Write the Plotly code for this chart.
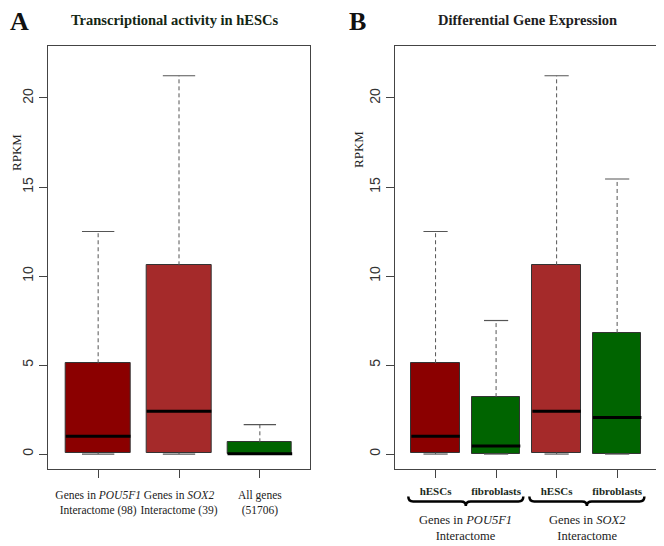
import plotly.graph_objects as go

# ---- data (RPKM box statistics) ----
a_labels = ["Genes in <i>POU5F1</i><br>Interactome (98)",
            "Genes in <i>SOX2</i><br>Interactome (39)",
            "All genes<br>(51706)"]
a_lower = [0.0, 0.0, 0.0]
a_q1 = [0.08, 0.08, 0.0]
a_median = [1.0, 2.4, 0.02]
a_q3 = [5.1, 10.6, 0.66]
a_upper = [12.5, 21.25, 1.65]
a_colors = ["#8B0000", "#A52A2A", "#006400"]

b_labels = ["hESCs", "fibroblasts", "hESCs", "fibroblasts"]
b_lower = [0.0, 0.0, 0.0, 0.0]
b_q1 = [0.08, 0.02, 0.08, 0.02]
b_median = [1.0, 0.45, 2.4, 2.05]
b_q3 = [5.1, 3.2, 10.6, 6.8]
b_upper = [12.5, 7.5, 21.25, 15.45]
b_colors = ["#8B0000", "#006400", "#A52A2A", "#006400"]
b_groups = ["Genes in <i>POU5F1</i><br>Interactome", "Genes in <i>SOX2</i><br>Interactome"]

y_ticks = [0, 5, 10, 15, 20]

SERIF = "Liberation Serif"
SANS = "Liberation Sans"
BOXW = 0.8

# page has an 8px body margin: figure is sized to fit the window exactly
W, H, OFF = 656, 538, 8


def px(x, y):
    # page pixel -> paper coordinates
    return (x - OFF) / W, 1 - (y - OFF) / H


def xdom(a, b):
    return [(a - OFF) / W, (b - OFF) / W]


fig = go.Figure()


def add_boxes(lower, q1, med, q3, upper, colors, xa, ya):
    pos = list(range(1, len(q1) + 1))
    fig.add_trace(go.Bar(x=pos, y=[h - l for h, l in zip(q3, q1)], base=q1, width=BOXW,
                         marker=dict(color=colors, line=dict(color="#333333", width=1)),
                         xaxis=xa, yaxis=ya, showlegend=False, hoverinfo="skip"))
    wx, wy, cx, cy, mx, my = [], [], [], [], [], []
    for p, lo, a, m, b, hi in zip(pos, lower, q1, med, q3, upper):
        wx += [p, p, None, p, p, None]
        wy += [b, hi, None, lo, a, None]
        cx += [p - BOXW / 4, p + BOXW / 4, None, p - BOXW / 4, p + BOXW / 4, None]
        cy += [hi, hi, None, lo, lo, None]
        mx += [p - BOXW / 2, p + BOXW / 2, None]
        my += [m, m, None]
    fig.add_trace(go.Scatter(x=wx, y=wy, mode="lines", line=dict(color="#555555", width=1, dash="4px,3px"),
                             xaxis=xa, yaxis=ya, showlegend=False, hoverinfo="skip"))
    fig.add_trace(go.Scatter(x=cx, y=cy, mode="lines", line=dict(color="#555555", width=1.2),
                             xaxis=xa, yaxis=ya, showlegend=False, hoverinfo="skip"))
    fig.add_trace(go.Scatter(x=mx, y=my, mode="lines", line=dict(color="black", width=3),
                             xaxis=xa, yaxis=ya, showlegend=False, hoverinfo="skip"))


add_boxes(a_lower, a_q1, a_median, a_q3, a_upper, a_colors, "x", "y")
add_boxes(b_lower, b_q1, b_median, b_q3, b_upper, b_colors, "x2", "y2")

ydom = [1 - (469 - OFF) / H, 1 - (46 - OFF) / H]
frame = dict(showline=True, mirror=True, linecolor="#444444", linewidth=1, automargin=False,
             showgrid=False, zeroline=False, ticks="outside", tickcolor="#444444")

fig.update_layout(
    width=W, height=H, margin=dict(l=0, r=0, t=0, b=0, autoexpand=False),
    plot_bgcolor="white", paper_bgcolor="white", bargap=0,
    xaxis=dict(domain=xdom(47.7, 310.3), range=[0.376, 3.624], tickvals=[1, 2, 3],
               ticktext=a_labels, ticklen=8, ticklabelstandoff=7, tickangle=0,
               tickfont=dict(family=SERIF, size=11.5, color="#222222"), **frame),
    yaxis=dict(domain=ydom, range=[-0.84, 22.92], tickvals=y_ticks, ticklen=8, tickangle=-90,
               tickfont=dict(family=SANS, size=14, color="#333333"), **frame),
    xaxis2=dict(domain=xdom(395, 657.7), range=[0.33, 4.67], tickvals=[1, 2, 3, 4],
                ticktext=["<b>%s</b>" % t for t in b_labels], ticklen=8, ticklabelstandoff=4,
                tickangle=0, tickfont=dict(family=SERIF, size=11, color="#1a2a1a"),
                anchor="y2", **frame),
    yaxis2=dict(domain=ydom, range=[-0.84, 22.92], tickvals=y_ticks, ticklen=8, tickangle=-90,
                tickfont=dict(family=SANS, size=14, color="#333333"), anchor="x2", **frame),
)


def note(text, x, y, size, color="#222222", family=SERIF, angle=0):
    xp, yp = px(x, y)
    fig.add_annotation(text=text, x=xp, y=yp, xref="paper", yref="paper", showarrow=False,
                       xanchor="center", yanchor="middle", textangle=angle,
                       font=dict(family=family, size=size, color=color))


# panel letters, titles, axis titles
note("<b>A</b>", 19, 22, 26, "#111111")
note("<b>B</b>", 357, 22, 26, "#111111")
note("<b>Transcriptional activity in hESCs</b>", 175, 20, 14.5, "#132613")
note("<b>Differential Gene Expression</b>", 527, 20, 14.5, "#1e1e1e")
note("RPKM", 17, 153, 13, angle=-90)
note("RPKM", 358, 150, 13, angle=-90)

# group braces and labels under panel B
yt, ym, yb = px(0, 496.5)[1], px(0, 501.5)[1], px(0, 506)[1]
for g, label in enumerate(b_groups):
    c = 1.5 + 2 * g
    x0, x1, d = c - 0.95, c + 0.95, 0.08
    path = (f"M {x0},{yt} Q {x0},{ym} {x0 + d},{ym} L {c - d},{ym} Q {c},{ym} {c},{yb} "
            f"Q {c},{ym} {c + d},{ym} L {x1 - d},{ym} Q {x1},{ym} {x1},{yt}")
    fig.add_shape(type="path", path=path, xref="x2", yref="paper",
                  line=dict(color="black", width=2.5))
    fig.add_annotation(text=label, x=c, y=px(0, 528)[1], xref="x2", yref="paper",
                       showarrow=False, xanchor="center", yanchor="middle",
                       font=dict(family=SERIF, size=12.5, color="#222222"))

fig.write_html("out.html")
